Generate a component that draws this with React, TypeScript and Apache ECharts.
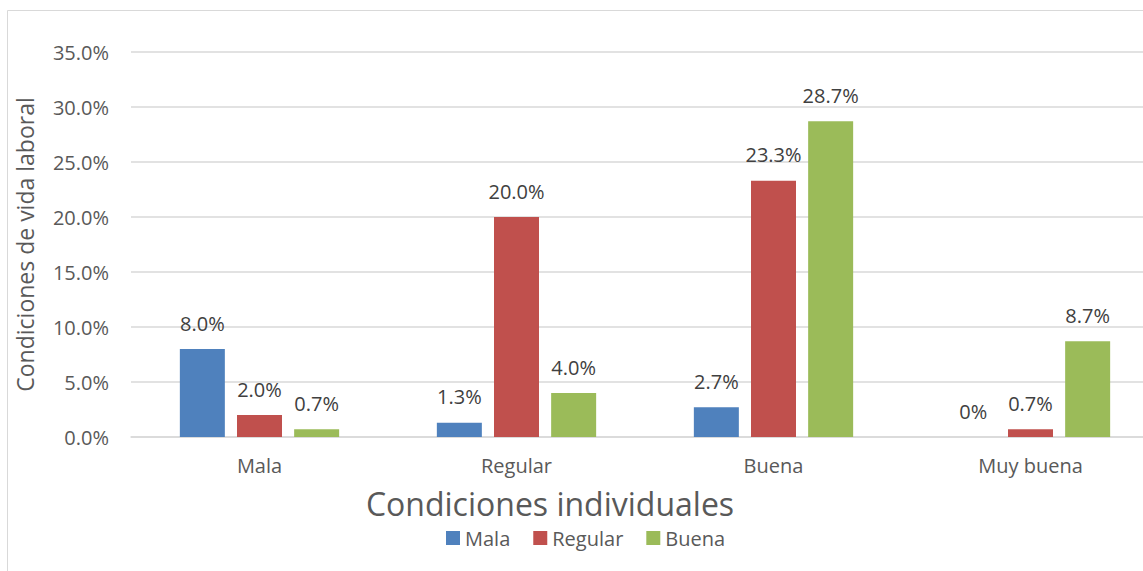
import React, { useEffect, useRef } from "react";
import * as echarts from "echarts";

const categories = ["Mala", "Regular", "Buena", "Muy buena"];
const seriesNames = ["Mala", "Regular", "Buena"];
const malaValues = [8.0, 1.3, 2.7, 0];
const regularValues = [2.0, 20.0, 23.3, 0.7];
const buenaValues = [0.7, 4.0, 28.7, 8.7];
const colors = ["#4F81BD", "#C0504D", "#9BBB59"];
const yTicks = { min: 0, max: 35, interval: 5 };
const xTitle = "Condiciones individuales";
const yTitle = "Condiciones de vida laboral";

const FONT = "'Open Sans', 'Noto Sans', sans-serif";
const TXT = "#595959";

export default function App() {
  const ref = useRef<HTMLDivElement>(null);
  useEffect(() => {
    document.body.style.margin = "0";
    const chart = echarts.init(ref.current!, null, { renderer: "svg" });
    const values = [malaValues, regularValues, buenaValues];
    chart.setOption({
      animation: false,
      backgroundColor: "#ffffff",
      textStyle: { fontFamily: FONT, color: TXT },
      graphic: [
        {
          type: "rect",
          shape: { x: 7.5, y: 10.5, width: 1200, height: 600 },
          style: { fill: "none", stroke: "#D9D9D9", lineWidth: 1 },
          silent: true,
        },
        {
          type: "text",
          x: 550,
          y: 503,
          style: {
            text: xTitle,
            fontFamily: FONT,
            fontSize: 32,
            fill: TXT,
            align: "center",
            verticalAlign: "middle",
          },
        },
      ],
      grid: {
        left: 131,
        width: 1028,
        top: 52,
        height: 385,
        containLabel: false,
        outerBoundsMode: "none",
      },
      legend: {
        data: seriesNames,
        bottom: 18,
        left: 441,
        itemWidth: 14,
        itemHeight: 14,
        itemGap: 23,
        icon: "rect",
        textStyle: { fontFamily: FONT, fontSize: 20, color: TXT },
      },
      xAxis: {
        type: "category",
        data: categories,
        axisLine: { lineStyle: { color: "#D9D9D9", width: 1.5 } },
        axisTick: { show: false },
        axisLabel: { fontFamily: FONT, fontSize: 20, color: TXT, margin: 18 },
      },
      yAxis: {
        type: "value",
        min: yTicks.min,
        max: yTicks.max,
        interval: yTicks.interval,
        name: yTitle,
        nameLocation: "middle",
        nameRotate: 90,
        nameGap: 95,
        nameTextStyle: { fontFamily: FONT, fontSize: 23, color: TXT },
        axisLine: { show: false },
        axisTick: { show: false },
        splitLine: { lineStyle: { color: "#D9D9D9", width: 1.5 } },
        axisLabel: {
          fontFamily: FONT,
          fontSize: 20,
          color: TXT,
          margin: 22,
          formatter: (v: number) => v.toFixed(1) + "%",
        },
      },
      series: seriesNames.map((name, i) => ({
        name,
        type: "bar",
        data: values[i],
        barWidth: 45,
        barGap: "27%",
        barCategoryGap: "38%",
        itemStyle: { color: colors[i] },
        label: {
          show: true,
          position: "top",
          distance: 16,
          fontFamily: FONT,
          fontSize: 20,
          color: "#404040",
          formatter: (p: any) => (p.value === 0 ? "0%" : p.value.toFixed(1) + "%"),
        },
      })),
    });
    return () => chart.dispose();
  }, []);
  return (
    <div
      ref={ref}
      style={{ position: "absolute", left: 0, top: 0, width: 1143, height: 571 }}
    />
  );
}
